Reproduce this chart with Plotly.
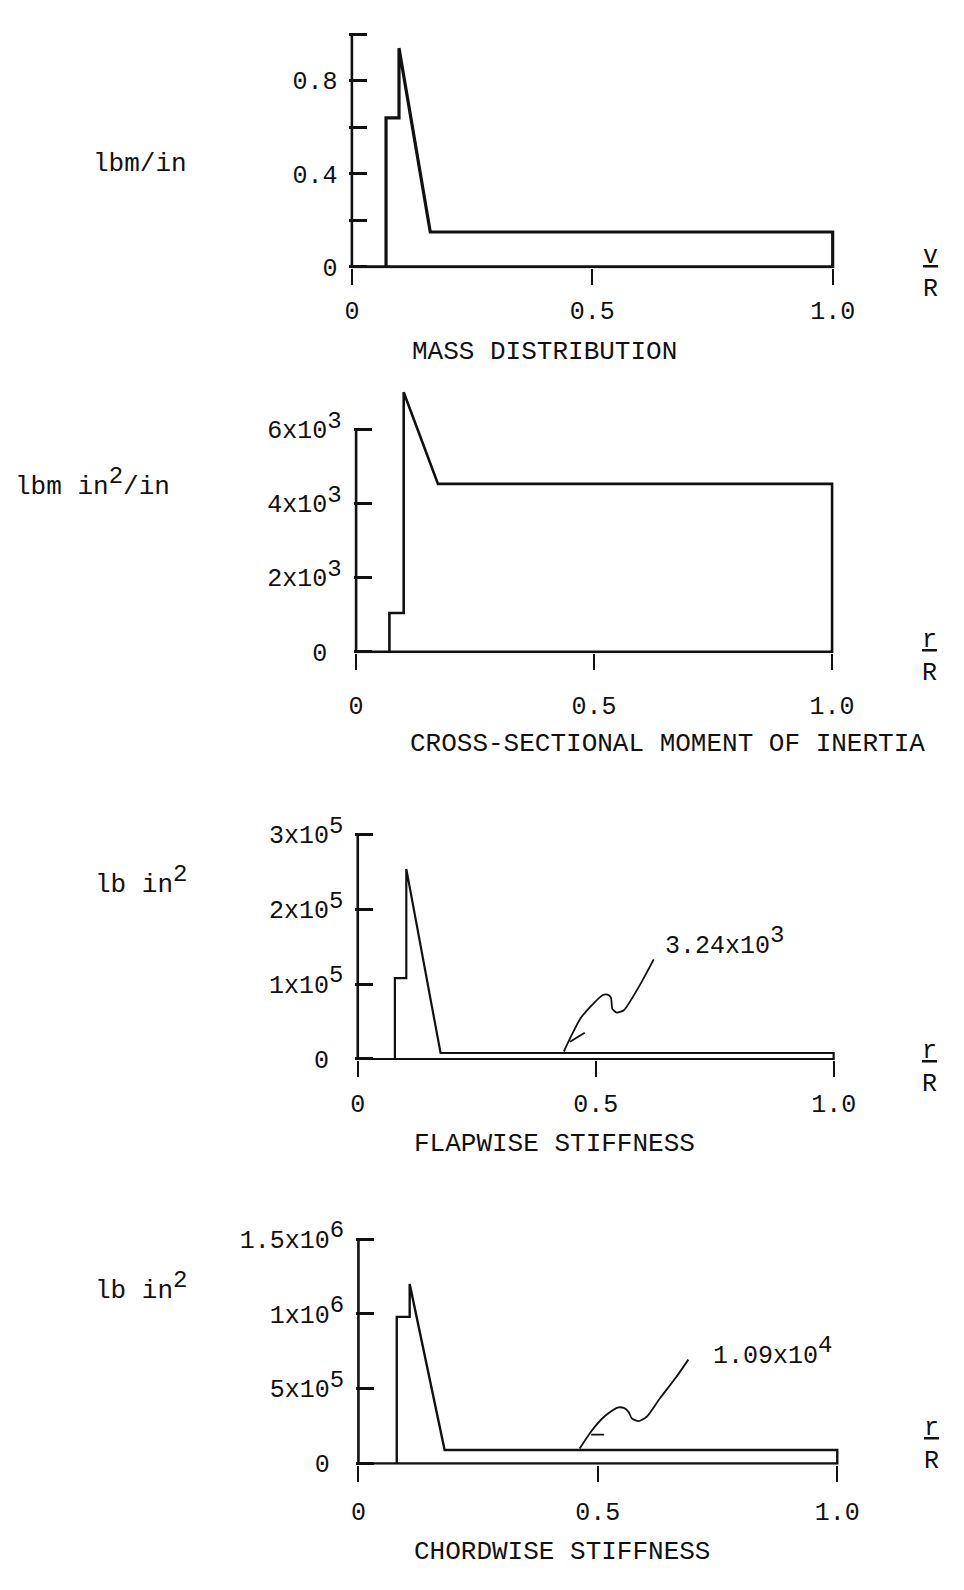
import plotly.graph_objects as go

W, H = 964, 1590

# ---------------- data ----------------
# Mass distribution, lbm/in vs r/R
mass_r = [0, 0.071, 0.071, 0.098, 0.098, 0.163, 1.0, 1.0, 0]
mass_v = [0, 0, 0.64, 0.64, 0.94, 0.15, 0.15, 0, 0]

# Cross-sectional moment of inertia, lbm in^2/in
inertia_r = [0, 0.070, 0.070, 0.100, 0.100, 0.172, 1.0, 1.0, 0]
inertia_v = [0, 0, 1050, 1050, 7000, 4530, 4530, 0, 0]

# Flapwise stiffness, lb in^2
flap_r = [0, 0.078, 0.078, 0.102, 0.102, 0.174, 1.0, 1.0, 0]
flap_v = [0, 0, 1.08e5, 1.08e5, 2.54e5, 8.0e3, 8.0e3, 0, 0]

# Chordwise stiffness, lb in^2
chord_r = [0, 0.080, 0.080, 0.107, 0.107, 0.180, 1.0, 1.0, 0]
chord_v = [0, 0, 0.98e6, 0.98e6, 1.20e6, 9.0e4, 9.0e4, 0, 0]

# hand-drawn leader lines of the value call-outs
flap_leader_r = [0.622, 0.593, 0.559, 0.544, 0.535, 0.532, 0.525, 0.515, 0.470, 0.433]
flap_leader_v = [1.33e5, 0.99e5, 0.65e5, 0.62e5, 0.67e5, 0.82e5, 0.86e5, 0.855e5, 0.56e5, 0.10e5]
flap_barb_r = [0.446, 0.477]
flap_barb_v = [0.23e5, 0.35e5]
flap_callout = "3.24x10<sup><span style='font-size:24px'>3</span></sup>"
flap_callout_at = (0.641, 1.565e5)

chord_leader_r = [0.689, 0.663, 0.629, 0.602, 0.585, 0.571, 0.564, 0.554, 0.541, 0.513, 0.486, 0.462]
chord_leader_v = [0.694e6, 0.574e6, 0.432e6, 0.312e6, 0.283e6, 0.301e6, 0.345e6, 0.371e6,
                  0.373e6, 0.312e6, 0.214e6, 0.100e6]
chord_barb_r = [0.486, 0.513]
chord_barb_v = [0.192e6, 0.192e6]
chord_callout = "1.09x10<sup><span style='font-size:24px'>4</span></sup>"
chord_callout_at = (0.736, 0.746e6)

# tick labels
x_tickvals = [0, 0.5, 1.0]
x_ticktext = ["0", "0.5", "1.0"]


def sup(base, e):
    return f"{base}x10<sup><span style='font-size:24px'>{e}</span></sup>"


ZERO_SUP = "0<sup><span style='font-size:24px'>\u00a0</span></sup>"

mass_tickvals = [0, 0.2, 0.4, 0.6, 0.8, 1.0]
mass_ticktext = ["0", "", "0.4", "", "0.8", ""]
inertia_tickvals = [0, 2000, 4000, 6000]
inertia_ticktext = [ZERO_SUP, sup(2, 3), sup(4, 3), sup(6, 3)]
flap_tickvals = [0, 1e5, 2e5, 3e5]
flap_ticktext = [ZERO_SUP, sup(1, 5), sup(2, 5), sup(3, 5)]
chord_tickvals = [0, 5e5, 1e6, 1.5e6]
chord_ticktext = [ZERO_SUP, sup(5, 5), sup(1, 6), sup("1.5", 6)]

titles = ["MASS DISTRIBUTION", "CROSS-SECTIONAL MOMENT OF INERTIA",
          "FLAPWISE STIFFNESS", "CHORDWISE STIFFNESS"]
SQ = "<sup><span style='font-size:24px'>2</span></sup>"
units = ["lbm/in", "lbm in" + SQ + "/in", "lb in" + SQ, "lb in" + SQ]
xvar = ["<u>v</u><br>R", "<u>r</u><br>R", "<u>r</u><br>R", "<u>r</u><br>R"]

# ---------------- layout (pixel geometry of each panel) ----------------
panels = [
    dict(px0=355.0, px1=847.0, py0=253.3, pytop=15.5, ymax=1.012, lw=3.2, xstand=4,
         title_xy=(552, 340), unit_xy=(138, 148), var_xy=(947, 260)),
    dict(px0=359.3, px1=846.4, py0=646.7, pytop=419.3, ymax=7250, lw=2.6, xstand=14,
         title_xy=(678, 741), unit_xy=(90, 474), var_xy=(946, 652)),
    dict(px0=361.0, px1=848.0, py0=1062.7, pytop=833.3, ymax=3.03e5, lw=2.2, xstand=5,
         title_xy=(562, 1150), unit_xy=(139, 880), var_xy=(946, 1072)),
    dict(px0=361.7, px1=851.7, py0=1476.0, pytop=1246.7, ymax=1.515e6, lw=2.4, xstand=8,
         title_xy=(570, 1567), unit_xy=(139, 1295), var_xy=(948, 1457)),
]
series = [(mass_r, mass_v), (inertia_r, inertia_v), (flap_r, flap_v), (chord_r, chord_v)]
yticks = [(mass_tickvals, mass_ticktext), (inertia_tickvals, inertia_ticktext),
          (flap_tickvals, flap_ticktext), (chord_tickvals, chord_ticktext)]

FONT = "Liberation Mono, Courier New, monospace"
INK = "#111111"
XLO, XHI = -0.005, 1.012

fig = go.Figure()
annotations = []


def ann(text, px, py, size=26, xanchor="center", yanchor="middle"):
    annotations.append(dict(text=text, x=px / W, y=1 - py / H, xref="paper", yref="paper",
                            showarrow=False, xanchor=xanchor, yanchor=yanchor,
                            font=dict(family=FONT, size=size, color=INK)))


for i, (p, (rx, ry), (tv, tt)) in enumerate(zip(panels, series, yticks)):
    n = "" if i == 0 else str(i + 1)
    xa, ya = "x" + n, "y" + n
    ytop = max(tv)
    sx = p["px1"] - p["px0"]
    sy = (p["py0"] - p["pytop"]) / ytop
    ylo = -0.006 * ytop
    left = p["px0"] + XLO * sx
    right = p["px0"] + XHI * sx
    bottom = p["py0"] - ylo * sy
    top = p["py0"] - p["ymax"] * sy

    fig.add_trace(go.Scatter(x=rx, y=ry, mode="lines", xaxis=xa, yaxis=ya,
                             line=dict(color=INK, width=p["lw"]), showlegend=False,
                             hoverinfo="skip"))
    # vertical axis line from 0 to the top tick
    fig.add_trace(go.Scatter(x=[0, 0], y=[0, ytop], mode="lines", xaxis=xa, yaxis=ya,
                             line=dict(color=INK, width=2.6), showlegend=False,
                             hoverinfo="skip"))

    fig.layout["xaxis" + n] = dict(
        domain=[left / W, right / W], range=[XLO, XHI], anchor=ya,
        tickmode="array", tickvals=x_tickvals, ticktext=x_ticktext,
        ticks="outside", ticklen=16, tickwidth=2, tickcolor=INK,
        showline=False, showgrid=False, zeroline=False, ticklabelstandoff=p["xstand"],
        tickfont=dict(family=FONT, size=25, color=INK), fixedrange=True)
    fig.layout["yaxis" + n] = dict(
        domain=[1 - bottom / H, 1 - top / H], range=[ylo, p["ymax"]], anchor=xa,
        tickmode="array", tickvals=tv, ticktext=tt,
        ticks="inside", ticklen=18, tickwidth=2.6, tickcolor=INK,
        showline=False, showgrid=False, zeroline=False, ticklabelstandoff=11,
        tickfont=dict(family=FONT, size=25, color=INK), fixedrange=True)

    ann(titles[i], *p["title_xy"])
    ann(units[i], *p["unit_xy"])
    ann(xvar[i], *p["var_xy"], size=25)

# call-outs on the stiffness panels
for (lr, lv, br, bv, txt, at, n) in [
        (flap_leader_r, flap_leader_v, flap_barb_r, flap_barb_v, flap_callout, flap_callout_at, "3"),
        (chord_leader_r, chord_leader_v, chord_barb_r, chord_barb_v, chord_callout, chord_callout_at, "4")]:
    fig.add_trace(go.Scatter(x=lr, y=lv, mode="lines", xaxis="x" + n, yaxis="y" + n,
                             line=dict(color=INK, width=1.8, shape="spline", smoothing=0.6),
                             showlegend=False, hoverinfo="skip"))
    fig.add_trace(go.Scatter(x=br, y=bv, mode="lines", xaxis="x" + n, yaxis="y" + n,
                             line=dict(color=INK, width=1.8), showlegend=False,
                             hoverinfo="skip"))
    annotations.append(dict(text=txt, x=at[0], y=at[1], xref="x" + n, yref="y" + n,
                            showarrow=False, xanchor="left", yanchor="middle",
                            font=dict(family=FONT, size=25, color=INK)))

fig.update_layout(width=W, height=H, autosize=False,
                  margin=dict(l=0, r=0, t=0, b=0),
                  paper_bgcolor="white", plot_bgcolor="white",
                  annotations=annotations, showlegend=False)

fig.write_html("out.html", config={"displayModeBar": False})
